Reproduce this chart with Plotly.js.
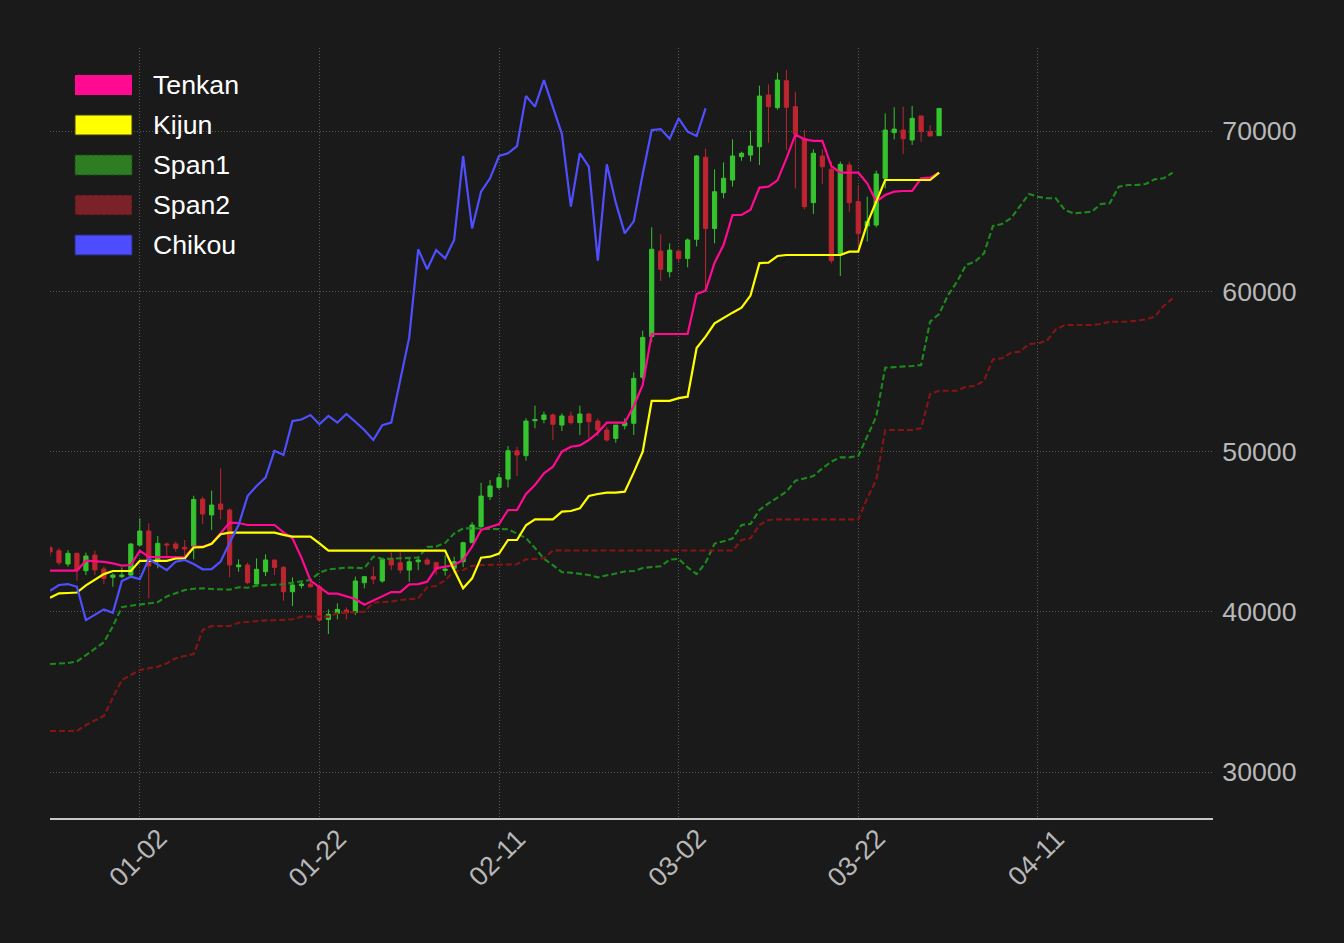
<!DOCTYPE html>
<html>
<head>
<meta charset="utf-8">
<script src="https://cdn.plot.ly/plotly-3.0.1.min.js"></script>
<style>
html,body{margin:0;padding:0;background:#1a1a1a;}
#chart{width:1344px;height:943px;}
</style>
</head>
<body>
<div id="chart"></div>
<script>
// ---------------- DATA ----------------
const START_DATE = [2023, 11, 23];           // first candle: 2023-12-23 (month index 11 = December)
const N_SPAN_DAYS = 126;                       // candles + 26 days of forward cloud

const openP = [44000,43810,42980,43650,42560,43540,42670,42150,42190,42290,
 44160,45040,43200,44230,44230,44020,44100,47030,46040,46720,
 46350,42810,42920,41730,42500,43230,42770,41250,41630,41730,
 41560,39520,39900,40110,39960,41810,42190,41920,43330,43060,
 42600,43120,43230,43060,42580,42710,43126,44310,45310,47180,
 47760,48280,50050,49740,51920,52000,52280,51650,52220,51800,
 52340,51900,51340,50820,51610,51760,54630,57170,62510,61220,
 62510,62050,63240,68360,63920,66150,66940,68400,68500,69020,
 72250,71460,73140,71520,69540,65530,68440,67610,62260,67880,
 65590,64070,64130,67050,69900,70060,69440,70940,69960,69710];

const highP = [44100,43960,43850,43690,43690,43810,42810,42400,42770,44270,
 45830,45520,44730,44310,44380,44480,47240,47180,47560,48950,
 46450,43270,43060,43330,43580,43230,42850,42150,41880,41880,
 41690,40150,40530,40280,42190,42200,42810,43300,43710,43710,
 43290,43440,43380,43120,43530,43440,44370,45590,48050,48220,
 48640,50340,50300,52070,52860,52490,52380,52380,52490,52860,
 52420,52070,51530,51650,52070,54940,57540,63990,63570,62990,
 62510,63300,68500,68900,67610,68040,69480,68710,70020,72830,
 72910,73640,73810,72450,70060,68860,68860,68090,68090,68090,
 66630,65900,67530,71100,71480,71520,71560,70940,70370,71410];

const lowP = [43450,42920,42810,41940,42290,42290,41730,41570,42090,42200,
 44100,40840,42710,43440,43750,43440,43270,45480,45100,45770,
 42150,42500,41720,41720,42230,42290,40690,40360,41460,41500,
 39400,38610,39530,39530,39800,41460,41730,41810,42600,42400,
 41880,42600,42890,42300,42260,42570,42790,44300,45240,46970,
 47640,47760,48470,49430,51450,51760,50720,51280,51680,51030,
 50820,50970,50610,50550,51380,51030,54480,56850,60640,60870,
 61780,61490,62800,60000,62990,65800,66530,68150,68100,67880,
 69270,71330,68810,66420,65110,64820,66690,61740,60950,64960,
 62780,63100,63990,66420,69480,68570,69130,69330,69690,69710];

const closeP = [43740,43060,43650,42610,43480,42610,42090,42290,42290,44230,
 45040,42860,44270,44170,43960,43920,47010,46100,46660,46390,
 42920,42920,41815,42650,43230,42770,41250,41670,41730,41560,
 39480,39840,40150,39940,41920,42190,42040,43290,42920,42600,
 43120,43230,42980,42650,42660,43126,44310,45410,47220,47850,
 48370,50050,49780,51900,52000,52280,51700,52220,51800,52340,
 51860,51340,50720,51650,51800,54560,57120,62620,61370,62570,
 62050,63200,68440,63920,66210,67050,68440,68610,69060,72180,
 71520,73180,71480,69810,65280,68610,67770,61910,67920,65530,
 63610,64360,67320,70060,70120,69520,70790,69960,69690,71410];

const tenkan = [42564,42564,42564,42564,43190,43170,43110,43020,42880,42920,
 43810,43420,43420,43420,43400,43400,44060,44060,44250,44910,
 45560,45540,45414,45414,45414,45414,44950,44580,43380,41950,
 41540,41130,41130,40960,40800,40440,40710,40990,41230,41230,
 41710,41730,41878,42710,42814,42918,43230,44062,45102,45310,
 45476,46350,46350,47350,47910,48640,49050,49990,50300,50385,
 50720,51180,51800,51800,51800,52840,54150,57332,57332,57332,
 57332,57332,59830,60040,61780,62886,64758,64758,65090,66470,
 66526,66920,68290,69780,69480,69380,69380,67816,67400,67400,
 67400,66734,65590,66006,66214,66256,66256,67046,67088,67400];

const kijun = [40870,41150,41170,41200,41650,42010,42350,42544,42544,42544,
 43180,43180,43180,43180,43324,43324,44010,44030,44240,44840,
 44936,44936,44936,44936,44936,44936,44800,44686,44686,44686,
 44270,43812,43812,43812,43812,43812,43812,43812,43812,43812,
 43812,43812,43812,43812,43812,42600,41462,42086,43376,43438,
 43630,44478,44478,45400,45768,45768,45768,46246,46288,46454,
 47224,47350,47430,47430,47494,48700,49990,53160,53160,53160,
 53330,53422,56460,57166,58000,58352,58664,58976,59730,61760,
 61784,62200,62262,62262,62262,62262,62262,62262,62262,62470,
 62470,64238,65590,66942,66942,66942,66942,66942,66942,67400];

const span1 = [36740,36780,36800,36900,37300,37680,38100,39100,40290,40380,
 40450,40510,40600,40960,41150,41358,41440,41462,41420,41400,
 41380,41525,41500,41628,41650,41670,41720,41816,41900,41982,
 42440,42640,42700,42760,42740,42720,43438,43310,43310,43320,
 43330,43380,44040,44080,44300,44880,45200,45220,45180,45160,
 45150,45150,44880,44600,43980,43310,42910,42475,42440,42370,
 42294,42150,42280,42390,42512,42540,42730,42790,42845,43255,
 43300,42770,42350,43060,44250,44400,44570,45414,45476,46350,
 46766,47120,47494,48180,48326,48470,48950,49366,49636,49636,
 49720,50926,52174,55232,55252,55294,55336,55400,58102,58580,
 59766,60598,61638,61846,62366,64072,64196,64550,65278,66070,
 65902,65800,65800,65070,64862,64904,64966,65444,65486,66526,
 66630,66630,66692,66984,67046,67400];

const span2 = [32560,32560,32560,32560,32934,33200,33496,34650,35742,36054,
 36366,36470,36574,36782,37094,37240,37364,38862,39112,39112,
 39112,39320,39380,39444,39460,39470,39486,39528,39694,39694,
 39694,39694,39902,39930,39965,40006,40568,40600,40630,40734,
 40776,40838,41524,41606,41982,42502,42606,42866,42918,42918,
 42940,42950,42970,43272,43300,43334,43830,43820,43820,43820,
 43820,43820,43820,43820,43820,43820,43820,43820,43820,43820,
 43820,43820,43820,43820,43820,43820,43820,44478,44582,45414,
 45726,45766,45766,45766,45766,45766,45766,45766,45766,45766,
 45766,47078,48222,51342,51342,51342,51342,51446,53588,53796,
 53796,53796,54046,54088,54420,55752,55814,56168,56230,56708,
 56750,56916,57624,57894,57894,57894,57894,57956,58102,58102,
 58102,58164,58248,58414,59080,59558];

const chikou = [41300,41670,41730,41560,39480,39840,40150,39940,41920,42190,
 42040,43290,42920,42600,43120,43230,42980,42650,42660,43126,
 44310,45410,47220,47850,48370,50050,49780,51900,52000,52280,
 51700,52220,51800,52340,51860,51340,50720,51650,51800,54560,
 57120,62620,61370,62570,62050,63200,68440,63920,66210,67050,
 68440,68610,69060,72180,71520,73180,71480,69810,65280,68610,
 67770,61910,67920,65530,63610,64360,67320,70060,70120,69520,
 70790,69960,69690,71410];

const seriesNames = ['Tenkan', 'Kijun', 'Span1', 'Span2', 'Chikou'];
const xTickDates  = ['2024-01-02', '2024-01-22', '2024-02-11', '2024-03-02', '2024-03-22', '2024-04-11'];
const xTickLabels = ['01-02', '01-22', '02-11', '03-02', '03-22', '04-11'];
const yTickValues = [30000, 40000, 50000, 60000, 70000];
const yTickLabels = ['30000', '40000', '50000', '60000', '70000'];

// ---------------- dates ----------------
function dayStr(i) {
  const d = new Date(Date.UTC(START_DATE[0], START_DATE[1], START_DATE[2] + i));
  return d.toISOString().slice(0, 10);
}
const dates = Array.from({length: N_SPAN_DAYS}, (_, i) => dayStr(i));

// ---------------- styles ----------------
const W = 1344, H = 943;
const M = {l: 50, r: 131, t: 48, b: 125};
const BG = '#1a1a1a';
const FONT = 'Liberation Sans, Arial, Helvetica, sans-serif';
const FS = 26.7;
const UP = '#35c42e', DOWN = '#be2530';
const C_TENKAN = '#ff0a90', C_KIJUN = '#ffff00', C_SPAN1 = '#1c8a1c', C_SPAN2 = '#851515', C_CHIKOU = '#4f4fff';
const GRID = '#5a5a5a';
const TICKC = '#b8b8b8';

const nC = closeP.length;
const candleX = dates.slice(0, nC);

const traces = [
  {type: 'candlestick', x: candleX, open: openP, high: highP, low: lowP, close: closeP,
   increasing: {line: {color: UP, width: 1}, fillcolor: UP},
   decreasing: {line: {color: DOWN, width: 1}, fillcolor: DOWN},
   whiskerwidth: 0, hoverinfo: 'skip', showlegend: false},
  {type: 'scatter', mode: 'lines', name: seriesNames[2], x: dates.slice(0, span1.length), y: span1,
   line: {color: C_SPAN1, width: 2.1, dash: '6px,3px'}, hoverinfo: 'skip'},
  {type: 'scatter', mode: 'lines', name: seriesNames[3], x: dates.slice(0, span2.length), y: span2,
   line: {color: C_SPAN2, width: 2.1, dash: '6px,3px'}, hoverinfo: 'skip'},
  {type: 'scatter', mode: 'lines', name: seriesNames[0], x: dates.slice(0, tenkan.length), y: tenkan,
   line: {color: C_TENKAN, width: 2.2}, hoverinfo: 'skip'},
  {type: 'scatter', mode: 'lines', name: seriesNames[1], x: dates.slice(0, kijun.length), y: kijun,
   line: {color: C_KIJUN, width: 2.2}, hoverinfo: 'skip'},
  {type: 'scatter', mode: 'lines', name: seriesNames[4], x: dates.slice(0, chikou.length), y: chikou,
   line: {color: C_CHIKOU, width: 2.2}, hoverinfo: 'skip'}
];

// ---------------- custom legend (matplotlib-style patches) ----------------
const PW = W - M.l - M.r, PH = H - M.t - M.b;
const px2x = x => (x - M.l) / PW;
const px2y = y => (H - M.b - y) / PH;
const legendFill = [C_TENKAN, C_KIJUN, '#2e7d22', '#7a2228', '#4d4dff'];
const legendEdge = [null, '#3a3a10', '#174d10', '#3e1014', '#2a2a70'];
const legendDash = [null, 'solid', 'dash', 'dash', 'solid'];
const shapes = [], annotations = [];
seriesNames.forEach((name, i) => {
  const top = 75 + i * 40;
  const sh = {type: 'rect', xref: 'paper', yref: 'paper',
    x0: px2x(75), x1: px2x(132), y0: px2y(top + 20), y1: px2y(top),
    fillcolor: legendFill[i], layer: 'above',
    line: legendEdge[i] ? {color: legendEdge[i], width: 1, dash: legendDash[i] === 'dash' ? '4px,2px' : 'solid'} : {width: 0}};
  shapes.push(sh);
  annotations.push({xref: 'paper', yref: 'paper', x: px2x(151), y: px2y(top + 10),
    xanchor: 'left', yanchor: 'middle', showarrow: false, text: name,
    font: {family: FONT, size: FS, color: '#ffffff'}});
});

// x tick labels rotated and centred on the tick (matplotlib style)
xTickDates.forEach((d, i) => {
  annotations.push({x: d, xref: 'x', y: 0, yref: 'paper', yshift: -40, xshift: -2,
    text: xTickLabels[i], showarrow: false, textangle: -45, xanchor: 'center', yanchor: 'middle',
    font: {family: FONT, size: FS, color: TICKC}});
});

const layout = {
  width: W, height: H, margin: M,
  paper_bgcolor: BG, plot_bgcolor: BG,
  showlegend: false,
  boxgap: 0.33,
  xaxis: {type: 'date', range: [dates[0], '2024-04-30 12:00'],
    tickvals: xTickDates, showticklabels: false, ticks: '',
    showgrid: true, gridcolor: GRID, gridwidth: 1, griddash: '1px,2px',
    showline: true, linecolor: '#c8c8c8', linewidth: 2, zeroline: false,
    rangeslider: {visible: false}, fixedrange: true},
  yaxis: {side: 'right', range: [27131, 75180],
    tickvals: yTickValues, ticktext: yTickLabels,
    showgrid: true, gridcolor: GRID, gridwidth: 1, griddash: '1px,2px',
    showline: false, zeroline: false, ticks: 'outside', ticklen: 3, tickcolor: 'rgba(0,0,0,0)',
    tickfont: {family: FONT, size: FS, color: TICKC}, fixedrange: true},
  shapes: shapes,
  annotations: annotations
};

Plotly.newPlot('chart', traces, layout, {staticPlot: true, displayModeBar: false});
</script>
</body>
</html>
